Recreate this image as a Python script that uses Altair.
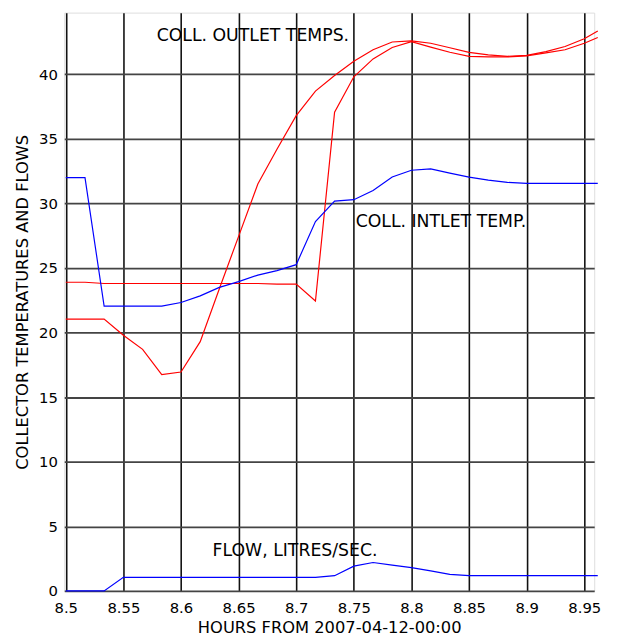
import altair as alt
import pandas as pd

HOURS = [8.5, 8.5167, 8.5333, 8.55, 8.5667, 8.5833, 8.6, 8.6167, 8.6333, 8.65,
         8.6667, 8.6833, 8.7, 8.7167, 8.7333, 8.75, 8.7667, 8.7833, 8.8, 8.8167,
         8.8333, 8.85, 8.8667, 8.8833, 8.9, 8.9167, 8.9333, 8.95, 8.9617]

OUTLET_1 = [21.05, 21.05, 21.05, 19.8, 18.7, 16.75, 16.95, 19.3, 23.4, 27.45,
            31.5, 34.2, 36.8, 38.7, 39.9, 41.0, 41.9, 42.5, 42.58, 42.4,
            42.05, 41.7, 41.5, 41.39, 41.46, 41.75, 42.15, 42.75, 43.35]

OUTLET_2 = [23.9, 23.9, 23.8, 23.8, 23.8, 23.8, 23.8, 23.8, 23.8, 23.8,
            23.8, 23.75, 23.75, 22.45, 37.07, 39.8, 41.19, 42.07, 42.53, 42.1,
            41.7, 41.39, 41.35, 41.34, 41.42, 41.65, 41.9, 42.4, 42.84]

INLET = [32.0, 32.0, 22.05, 22.05, 22.05, 22.05, 22.33, 22.84, 23.5, 23.95,
         24.45, 24.8, 25.26, 28.6, 30.18, 30.29, 31.0, 32.05, 32.57, 32.67,
         32.35, 32.04, 31.8, 31.63, 31.55, 31.55, 31.55, 31.55, 31.55]

FLOW = [0.0, 0.0, 0.0, 1.05, 1.05, 1.05, 1.05, 1.05, 1.05, 1.05,
        1.05, 1.05, 1.05, 1.05, 1.18, 1.92, 2.2, 2.0, 1.8, 1.55,
        1.28, 1.18, 1.18, 1.18, 1.18, 1.18, 1.18, 1.18, 1.18]

SERIES = {"outlet1": OUTLET_1, "outlet2": OUTLET_2, "inlet": INLET, "flow": FLOW}
SERIES_COLORS = {"outlet1": "#ff0000", "outlet2": "#ff0000", "inlet": "#0000ff", "flow": "#0000ff"}

LABELS = ["COLL. OUTLET TEMPS.", "COLL. INTLET TEMP.", "FLOW, LITRES/SEC."]
LABEL_X = [8.5789, 8.7516, 8.6274]
LABEL_Y = [42.54, 28.15, 2.71]

X_TICKS = [8.5, 8.55, 8.6, 8.65, 8.7, 8.75, 8.8, 8.85, 8.9, 8.95]
Y_TICKS = [0, 5, 10, 15, 20, 25, 30, 35, 40]

rows = []
for name, vals in SERIES.items():
    for t, v in zip(HOURS, vals):
        rows.append({"hours": t, "value": v, "series": name})
df = pd.DataFrame(rows)

lab = pd.DataFrame({"text": LABELS, "hours": LABEL_X, "value": LABEL_Y})

FONT = "DejaVu Sans"

xscale = alt.Scale(domain=[8.4987, 8.9586], nice=False, zero=False)
yscale = alt.Scale(domain=[0, 44.77], nice=False, zero=True)

xaxis = alt.Axis(
    title="HOURS FROM 2007-04-12-00:00",
    values=X_TICKS, format=".2~f", grid=True, gridColor="#111111", gridWidth=1.6,
    gridOpacity=1, ticks=False, domain=False, labelFont=FONT, labelFontSize=15,
    labelColor="#000000", labelBaseline="alphabetic", labelPadding=21.5,
    labelFlush=False, labelOverlap=False,
    titleFont=FONT, titleFontSize=16.5, titleFontWeight="normal", titleColor="#000000",
    titleBaseline="alphabetic", titleY=42.2,
)
yaxis = alt.Axis(
    title="COLLECTOR TEMPERATURES AND FLOWS",
    values=Y_TICKS, format="d", grid=True, gridColor="#444444", gridWidth=1.8,
    gridOpacity=1, ticks=False, domain=False, labelFont=FONT, labelFontSize=15,
    labelColor="#000000", labelPadding=7, labelFlush=False, labelOverlap=False,
    titleFont=FONT, titleFontSize=16.5, titleFontWeight="normal", titleColor="#000000",
    titleBaseline="alphabetic", titleX=-37, titleAngle=270,
)

lines = alt.Chart(df).mark_line(strokeWidth=1.2, clip=False).encode(
    x=alt.X("hours:Q", scale=xscale, axis=xaxis),
    y=alt.Y("value:Q", scale=yscale, axis=yaxis),
    color=alt.Color("series:N",
                    scale=alt.Scale(domain=list(SERIES_COLORS.keys()),
                                    range=list(SERIES_COLORS.values())),
                    legend=None),
    detail="series:N",
)

texts = alt.Chart(lab).mark_text(
    align="left", baseline="alphabetic", font=FONT, fontSize=17.5, color="#000000"
).encode(
    x=alt.X("hours:Q", scale=xscale),
    y=alt.Y("value:Q", scale=yscale),
    text="text:N",
)

chart = alt.layer(lines, texts).properties(
    width=537, height=586,
    autosize=alt.AutoSizeParams(type="none"),
    padding={"left": 57, "top": 0.5, "right": 15, "bottom": 45},
).configure_view(
    stroke="#000000", strokeWidth=2
).configure(background="#ffffff")

chart.save("out.html", embed_options={"renderer": "svg", "actions": False})
